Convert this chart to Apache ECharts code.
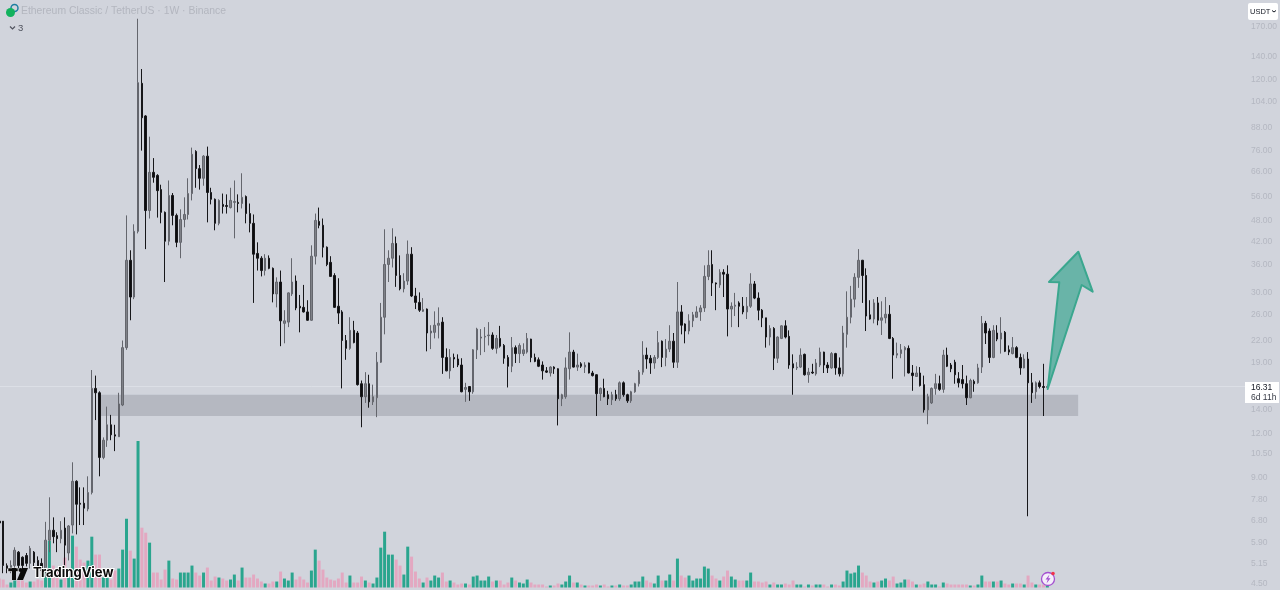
<!DOCTYPE html>
<html><head><meta charset="utf-8">
<style>html,body{margin:0;padding:0;background:#d1d4dc}#c{width:1280px;height:590px}</style>
<script src="https://cdn.jsdelivr.net/npm/echarts@6/dist/echarts.min.js"></script>
</head><body><div id="c"></div>
<script>
const opens = [
6.78,6.78,5.07,4.92,5.08,5.54,5.36,5.42,5.15,5.54,
5.25,5.15,4.92,5.99,6.39,6.17,6.05,6.48,5.51,6.61,
8.79,7.62,7.62,7.34,8.17,16.1,15.65,10.27,11.49,12.7,
11.9,11.75,14.45,21.0,37.1,29.2,44.8,117.5,95,51.3,
65.8,64.5,58.8,50.7,42,56.6,49.7,41.7,48.4,50,
57.3,75.4,67.4,63.3,73.1,57.7,55.2,47.2,53.4,53,
52.3,54.1,54.1,53.7,56.2,50.3,47.2,38.8,37.6,34.7,
37.6,35.2,29.8,32.2,24.6,24.8,29.8,32.4,27.5,27.3,
26.5,25.1,38.1,47.8,46.6,40.4,36.6,33.6,27.5,26.5,
22,20.9,23.5,23.1,16.6,15.25,16.6,14.75,15.15,19.1,
25.6,36.1,37.6,41.4,33.6,30.8,32.4,38.6,29.4,28.2,
26.6,27,23.1,23.2,24.3,24.8,19.7,18.05,19.7,19.5,
18.75,16,16.3,15.75,20.7,22.35,22.5,22.7,22.8,20.9,
22.3,21.3,19.7,18.6,21,20.2,20.2,20.4,22.2,19.7,
19.4,18.75,18.05,17.8,18.5,18.3,15.05,15.25,18.3,20.4,
18.5,18.9,18.5,19,17.8,17.6,15.55,16.1,15.45,14.95,
15.45,15.05,16.7,15.45,14.85,15.75,16.6,17.9,20,19.6,
19,19.7,21.9,19.7,20.8,21.9,19.1,26.5,24.5,23.4,
25,25.6,26.5,27.2,33.4,36.1,32,31.6,34.3,33.9,
27,27.5,28.1,27.5,26.5,27.5,31.8,29,26.8,25.5,
22.5,23.8,19.6,22.3,24.2,22.6,18.9,18.4,18.5,20.1,
17.6,17.9,17.7,18.75,20.4,18.75,18.4,20.2,18.4,17.7,
22.9,25.6,28.8,33.2,37.1,33.6,26,25.3,28.1,25.1,
25.5,26.1,22.3,20,20.2,20.7,20.9,17.8,17.4,17.8,
16.5,14,14.65,16.1,16.6,16,20,18.75,19.1,17.15,
17.05,16.6,15.15,16.85,16.7,18.5,24.6,23.4,19.7,23.1,
22.2,23.2,20.7,20.2,21,19.7,18.4,19.5,16.7,15.75,
16.7,16.3,16.2];
const closes = [
6.7,5.08,4.98,5.08,5.61,5.08,5.08,5.15,5.68,5.18,
5.02,4.92,5.99,6.39,6.13,6.05,6.39,5.80,6.57,8.79,
7.57,7.57,7.38,8.17,16.1,15.65,10.27,11.49,12.7,11.9,
11.8,14.55,21,37.1,29.2,44.8,118,93.9,51.3,65.8,
63.7,58.4,50.7,42,56.6,49.7,41.7,48.4,50,57.3,
74,67.4,63.3,73.1,57.7,55.2,47.2,54.8,52.7,52.7,
54.8,54.4,53.7,55.9,50.3,47.2,38.6,37.6,34.7,37.6,
35.2,29.8,32.2,25,25,30,32.2,27.2,27.2,26.5,
25.1,38.1,48.1,46.6,40.4,36.1,33.4,27.3,26.3,22,
20.9,23.5,21.7,16.5,15.25,16.6,14.75,15.25,19.1,25.6,
36.1,37.6,41.4,33.6,30.8,32.4,38.6,29.4,28.2,26.8,
26.9,23.1,23.4,24.3,24.6,19.7,18.05,19.7,19.5,18.75,
15.75,16.2,15.75,20.7,23.7,22.5,22.6,22.8,20.9,22.3,
21.2,19.6,18.6,21,20.2,21.3,20.7,22.3,19.7,19.2,
18.6,18.05,17.9,18.5,18.3,15.05,15.45,18.4,20.4,18.5,
18.75,18.6,18.75,17.8,17.5,15.55,16.1,15.25,15.05,15.45,
15.05,16.7,15.45,14.85,15.75,16.6,17.9,20,19.5,19,
19.7,21.7,19.7,20.8,21.9,19.1,26.5,24.3,23.4,25,
26,26.5,27.2,33.4,35.9,32,31.8,34.3,33.9,27,
27.5,27.7,27.5,26.5,27.5,31.8,29,26.8,25.5,22.5,
23.8,19.6,22.5,24.2,22.5,18.75,18.4,18.5,20,17.6,
17.9,17.8,19,20.4,18.75,18.4,20.2,18.4,17.7,23.1,
25.6,28.8,33.2,37.1,33.6,25.8,25.3,28.1,25.1,25.5,
26.1,22.3,20,20.2,20.7,21,17.8,17.5,17.8,16.4,
14,15.25,16.1,16.6,16,20,18.6,18.3,17.6,16.7,
16.6,15.15,16.95,16.6,18.4,24.6,23.1,19.7,23.5,22.2,
23.1,20.5,20.4,21,19.7,18.4,19.5,16.7,15.65,16.7,
16.3,16.2,16.31];
const lows = [
6.46,4.83,4.83,4.83,4.98,4.98,4.98,5.05,4.98,5.05,
4.92,4.83,4.70,5.54,5.87,5.54,5.87,5.02,5.25,6.26,
6.22,6.61,6.61,7.23,8.07,13.1,9.08,10.15,11.0,11.49,
10.7,11.75,14.35,20.7,25.1,28.8,44.2,75.8,39.9,48.7,
61.5,49,47.2,32.2,40.9,46.6,40.4,37.6,46,48.4,
54.8,59.5,58.8,60.3,47.5,53.4,45.1,46.6,50.3,50.3,
52,42.8,50.7,52,47.2,44.5,28.1,34.7,33.4,33.6,
35,28.2,27.3,21.2,21.6,24,29.4,26.8,23.2,26.4,
25,25,36.1,45.7,37.8,35.7,33.3,27.2,24.5,16.1,
19.4,20.7,21.6,16.4,12.5,14.65,14.2,14.45,13.35,19,
22.9,32.2,35.4,31.2,30.5,30.1,31.6,29.2,27,26.5,
26.5,20.5,20.8,22.3,22.3,17.7,18,17.15,18.4,18.5,
15.7,14.75,14.85,15.55,19.5,20,20.4,21.3,20.7,20.2,
21,18.9,16.2,17.9,19,19,19.9,20.2,19.1,19.1,
18.5,17.05,17.8,17.4,17.7,12.65,14.35,15.05,17.05,18.45,
18.05,18.4,17.8,17.75,17.4,13.45,14.85,15.2,14.45,14.45,
14.85,14.85,15.25,14.65,14.65,15.65,16.3,17.6,18.3,17.7,
18.3,19.5,18.5,18.6,20.4,18.4,18.4,22.9,21.6,22.9,
24,25.5,25,26.5,32.6,29.4,26.8,31,29.2,22.6,
24,25.8,24,26.1,25.3,27.2,28.8,25.1,24,21,
21.3,18.15,19,22.2,22.3,18.3,15.45,18.15,18.4,17.5,
16.7,17.7,17.5,18.5,17.8,17.8,18.3,17.6,17.4,17.4,
21,24.6,27.3,31,28.1,23.4,25.2,24.6,24.3,22.8,
24.6,22.2,17.15,19.6,19.6,17.4,17.75,15.85,17.35,16.3,
13.75,12.75,14.55,15.45,15.85,15.65,18.5,17.9,16.6,16.2,
16.1,14.45,15.1,15.75,16.6,17.8,21.5,19,19.6,21.9,
20.2,20.4,20,20.1,19.6,17.6,18.35,7.0,14.65,15.05,
16.1,13.45,16.1];
const highs = [
6.78,6.78,5.15,5.25,5.72,5.58,5.39,5.51,5.77,5.58,
5.39,5.32,6.75,7.92,6.95,6.31,6.78,6.95,6.61,9.95,
8.85,8.45,8.45,9.08,18.15,17.5,15.8,11.7,14.3,13.55,
12.7,15.65,22,49.7,39.6,46.9,179,129,95.5,83,
72.2,65,60.7,51,62.4,57.5,50.3,51.7,55.9,63.3,
77.3,76,69,73.6,77.8,59.5,55.5,55.2,57.3,57,
59.5,62.4,57,65.4,56.6,53.7,50,41.7,38.1,38.6,
38.3,35.4,33.2,34.7,26.8,30.1,37.6,33.6,29.6,31.6,
28.6,40.9,50.3,52.3,48.7,40.6,38.1,34.1,33,26.8,
22.8,25.6,25,23.4,16.95,17.9,17.6,16.5,20.4,28.1,
45.4,39.6,45.7,43.3,38.3,34.1,42.2,40.4,31,30.1,
29,27.1,24.3,26.6,27.3,25.6,20.9,20.8,20.2,20.1,
19.6,16.7,16.35,20.8,23.9,23.7,24,24.8,23.2,22.8,
24.2,21.5,20,22.5,21.3,21.6,21.6,23.1,22.25,20.2,
19.7,19.2,18.5,18.6,18.6,18.35,15.55,19.7,23.2,20.7,
20.2,19.1,19.1,19.05,18.05,17.65,16.2,17.15,15.85,15.75,
15.95,16.85,16.85,15.55,15.85,16.7,18.15,21.9,21,20,
20,23.4,22,22.2,24.3,23.1,32.2,27.7,24.6,26.1,
26.5,27.5,27.7,35.9,39.6,39.6,32.1,35,35,35.9,
28.2,30,28.4,29.2,29.2,34.1,32.4,30.1,27,25.5,
24.3,24,22.6,24.3,25.1,23.5,20.1,19.1,20.9,20.2,
18.4,18.9,19.5,21,20.45,19.1,20.4,20.3,19.7,24.2,
30.3,31.4,34.1,39.9,37.2,35.2,28.6,28.8,29.2,28.4,
29.2,27.7,22.5,21.7,21.5,21.2,21.3,18.75,18.6,18.5,
17.5,15.55,16.2,17.7,17.5,20.7,21,19,19.4,17.9,
18.75,17.5,17.15,17.05,18.9,25.8,25,23.8,24.3,24.3,
25.6,23.4,21.3,22.5,21.2,20.2,20.1,20.4,17.8,16.85,
16.95,18.9,16.5];
const volumes = [
9,8,3,5,7,7,7,5,6,6,
8,7,18,47,22,18,8,30,11,52,
41,28,25,27,51,33,33,10,10,8,
17,19,38,69,37,29,147,60,55,45,
15,15,8,18,27,9,8,15,15,15,
22,15,12,15,20,7,11,10,9,7,
8,13,7,20,10,10,13,9,6,4,
4,6,6,16,9,7,15,8,11,8,
5,17,38,27,18,10,8,7,9,15,
5,12,5,5,11,7,5,4,10,40,
56,33,33,28,22,13,41,31,16,9,
5,10,7,12,10,15,6,7,5,3,
4,4,3,11,12,7,7,11,6,7,
7,3,5,10,7,5,4,8,5,3,
3,3,1,2,2,4,3,6,12,5,
5,3,2,2,2,3,2,3,1,2,
2,3,2,2,3,6,6,11,7,5,
4,12,7,7,13,7,29,12,10,12,
7,9,9,21,19,12,9,7,11,17,
11,8,7,7,7,15,6,6,5,6,
3,5,3,3,4,3,7,3,3,1,
3,2,3,3,3,1,3,3,2,6,
17,14,15,22,15,12,6,5,6,7,
9,7,11,4,5,8,8,6,3,3,
4,6,3,3,1,5,4,3,3,3,
3,3,2,2,3,12,6,6,6,6,
7,4,3,4,4,4,3,12,5,3,
3,3,2];
const priceTicks = [170,140,120,104,88,76,66,56,48,42,36,30,26,22,19,14,12,10.5,9,7.8,6.8,5.9,5.15,4.5];
const lastPrice = 16.31;
const zoneHigh = 15.44, zoneLow = 13.45;
const zoneStart = 26, zoneEnd = 280;
const slots = 325;

const weeks = Array.from({length: slots}, (_, i) => 'W' + i);
const ohlc = opens.map((o, i) => [o, closes[i], lows[i], highs[i]]);
const volData = volumes.map((v, i) => ({
  value: v,
  itemStyle: {color: closes[i] >= opens[i] ? '#2aa58e' : '#e3a8c1'}
}));

const gridLeft = -2.6, gridWidth = 1252.2;
const uiFont = '"Liberation Sans", Arial, sans-serif';
const chart = echarts.init(document.getElementById('c'), null, {renderer: 'canvas'});
chart.setOption({
  animation: false,
  backgroundColor: '#d1d4dc',
  title: {
    text: 'Ethereum Classic / TetherUS · 1W · Binance',
    left: 21, top: 6.5, padding: 0,
    textStyle: {color: '#b3b6bf', fontSize: 10.4, fontWeight: 'normal', fontFamily: uiFont}
  },
  grid: [
    {left: gridLeft, width: gridWidth, top: 0.7, height: 590, outerBoundsMode: 'none'},
    {left: gridLeft, width: gridWidth, top: 441, height: 146.5, outerBoundsMode: 'none'}
  ],
  xAxis: [
    {type: 'category', data: weeks, gridIndex: 0, show: false},
    {type: 'category', data: weeks, gridIndex: 1, show: false}
  ],
  yAxis: [
    {type: 'log', gridIndex: 0, position: 'right', min: 4.31, max: 201.3, logBase: 10,
     axisLine: {show: false}, axisTick: {show: false}, splitLine: {show: false},
     axisLabel: {
       customValues: priceTicks, margin: 1.4,
       formatter: v => Number(v).toFixed(2),
       color: '#b4b7c1', fontSize: 8.5, fontFamily: uiFont
     }},
    {type: 'value', gridIndex: 1, min: 0, max: 147, show: false}
  ],
  series: [
    {type: 'bar', xAxisIndex: 1, yAxisIndex: 1, data: volData, barWidth: 3, z: 1, silent: true},
    {type: 'candlestick', xAxisIndex: 0, yAxisIndex: 0, z: 3,
     barWidth: 2, silent: true,
     data: ohlc.map(d => [d[0], d[1], d[2], d[3]]),
     itemStyle: {color: '#7f8188', color0: '#0c0c0e', borderColor: '#64666d', borderColor0: '#17171a', borderWidth: 1},
     markArea: {
       silent: true, z: 1,
       itemStyle: {color: '#b5b8c1'},
       data: [[{xAxis: zoneStart, yAxis: zoneHigh}, {xAxis: zoneEnd, yAxis: zoneLow}]]
     },
     markLine: {
       silent: true, symbol: 'none', z: 2, label: {show: false},
       lineStyle: {color: '#dcdfe6', width: 1, type: 'solid'},
       data: [{yAxis: lastPrice}]
     }}
  ],
  graphic: [
    // trade-direction arrow
    {type: 'polygon', z: 20, shape: {points: [[1047.7,389],[1059.3,282.3],[1049,282],[1078.3,251.7],[1092.7,291.7],[1081.7,285]]},
     style: {fill: 'rgba(40,160,135,0.62)', stroke: '#3ba78f', lineWidth: 2, lineJoin: 'round'}},
    // price tag
    {type: 'rect', z: 20, shape: {x: 1245, y: 382, width: 34, height: 21}, style: {fill: '#ffffff'}},
    {type: 'text', z: 21, x: 1251, y: 383, style: {text: '16.31', fill: '#131722', font: '8.5px ' + uiFont}},
    {type: 'text', z: 21, x: 1251, y: 393, style: {text: '6d 11h', fill: '#363a45', font: '8.5px ' + uiFont}},
    // currency button
    {type: 'rect', z: 20, shape: {x: 1248, y: 3, width: 30, height: 17, r: 2}, style: {fill: '#ffffff'}},
    {type: 'text', z: 21, x: 1250, y: 7.5, style: {text: 'USDT', fill: '#131722', font: '7.5px ' + uiFont}},
    {type: 'polyline', z: 21, shape: {points: [[1272,10.5],[1274,12],[1276,10.5]]}, style: {stroke: '#131722', lineWidth: 1, fill: null}},
    // collapsed indicators
    {type: 'polyline', z: 21, shape: {points: [[10,26.5],[12.5,29],[15,26.5]]}, style: {stroke: '#50535e', lineWidth: 1.2, fill: null}},
    {type: 'text', z: 21, x: 18, y: 23, style: {text: '3', fill: '#50535e', font: '9.5px ' + uiFont}},
    // symbol icon
    {type: 'circle', z: 21, shape: {cx: 14.5, cy: 8, r: 3.5}, style: {fill: '#d1d4dc', stroke: '#1e7fa0', lineWidth: 1.5}},
    {type: 'circle', z: 21, shape: {cx: 10.5, cy: 12.5, r: 4.5}, style: {fill: '#12b25e'}},
    // platform watermark
    {type: 'rect', z: 21, shape: {x: 8, y: 568, width: 10, height: 3.5}, style: {fill: '#0a0a0a', stroke: '#fff', lineWidth: 0.5}},
    {type: 'rect', z: 21, shape: {x: 12, y: 568, width: 4, height: 12}, style: {fill: '#0a0a0a'}},
    {type: 'circle', z: 21, shape: {cx: 20.5, cy: 570, r: 2}, style: {fill: '#0a0a0a'}},
    {type: 'polygon', z: 21, shape: {points: [[22,568],[28,568],[23,580],[17,580]]}, style: {fill: '#0a0a0a'}},
    {type: 'text', z: 21, x: 33, y: 567, style: {text: 'TradingView', fill: '#0a0a0a', font: 'bold 13px Inter, ' + uiFont, stroke: '#ffffff', lineWidth: 2}},
    // bolt badge
    {type: 'circle', z: 21, shape: {cx: 1048, cy: 579, r: 6.5}, style: {fill: '#f4eefa', stroke: '#a34fd0', lineWidth: 1.3}},
    {type: 'polygon', z: 22, shape: {points: [[1049.5,574.5],[1045.5,579.5],[1047.8,579.5],[1046.5,583.5],[1050.5,578.2],[1048.2,578.2]]}, style: {fill: '#a34fd0'}},
    {type: 'circle', z: 22, shape: {cx: 1053, cy: 573.5, r: 1.8}, style: {fill: '#f0334a'}}
  ]
});
</script></body></html>
